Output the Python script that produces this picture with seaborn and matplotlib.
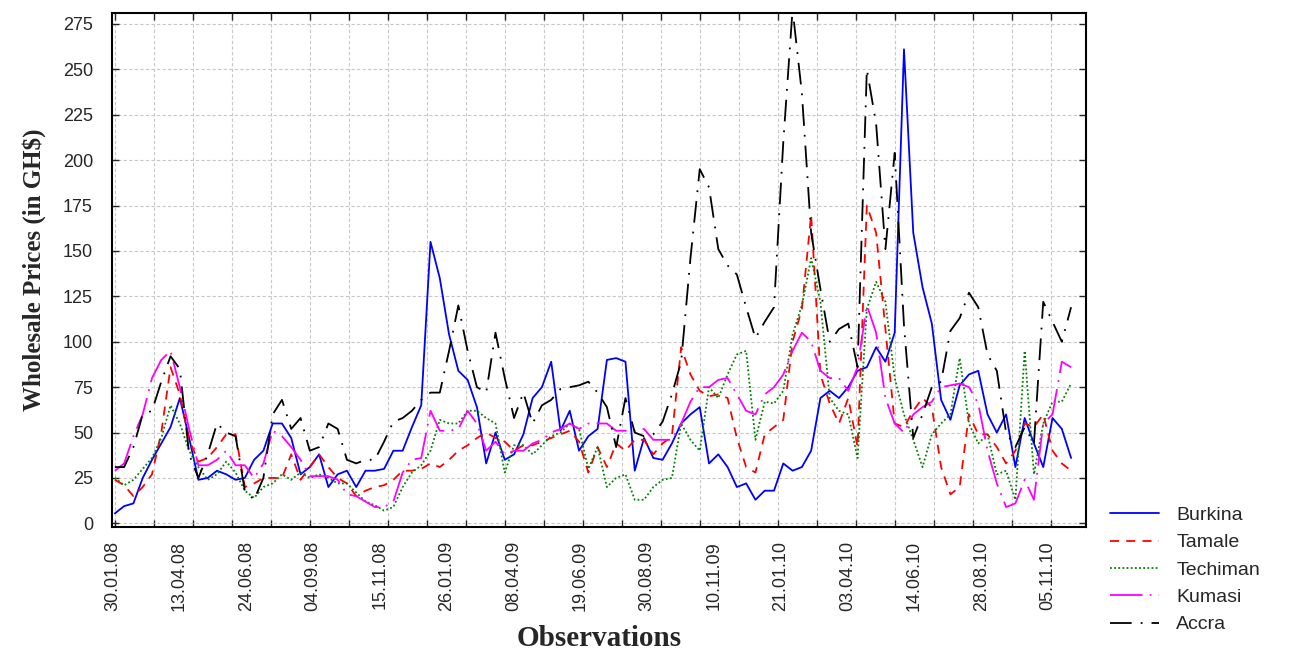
import numpy as np
import pandas as pd
import matplotlib
matplotlib.use("Agg")
import matplotlib.pyplot as plt
import seaborn as sns

obs = np.arange(0, 520, 5)

markets = ["Burkina", "Tamale", "Techiman", "Kumasi", "Accra"]

burkina = [5.5, 9.5, 11, 25, 35, 44, 53, 69, 47, 24, 25, 29, 27, 24, 25, 35, 40, 55, 55, 47, 27, 31, 38, 20, 27, 29, 20,
           29, 29, 30, 40, 40, 53, 65, 155, 135, 104, 84, 79, 64, 33, 50, 35, 38, 49, 69, 75, 89, 51, 62, 40, 48, 52,
           90, 91, 89, 29, 47, 36, 35, 44, 55, 60, 64, 33, 38, 31, 20, 22, 13, 18, 18, 33, 29, 31, 40, 69, 73, 69, 75,
           84, 86, 97, 89, 105, 261, 160, 130, 110, 68, 57, 76, 82, 84, 60, 50, 60, 31, 58, 44, 31, 58, 52, 36]
tamale = [24, 21, 15, 20, 27, 50, 86, 71, 46, 34, 36, 42, 49, 49, 20, 22, 25, 25, 25, 38, 24, 31, 38, 31, 25, 22, 15,
          18, 20, 21, 24, 29, 29, 30, 33, 31, 35, 40, 43, 47, 50, 47, 45, 40, 43, 43, 45, 47, 49, 51, 45, 28, 42,
          31, 44, 40, 46, 46, 38, 44, 48, 97, 82, 73, 70, 71, 69, 47, 31, 28, 49, 53, 57, 100, 118, 170, 82, 66, 55, 69,
          42, 175, 160, 107, 55, 53, 62, 69, 64, 31, 16, 20, 60, 49, 49, 42, 33, 40, 55, 53, 60, 40, 33, 29]
techiman = [25, 21, 24, 30, 36, 47, 65, 55, 40, 31, 24, 27, 34, 28, 18, 14, 20, 22, 27, 24, 28, 25, 27, 25, 22, 22, 17,
            12, 10, 7, 9, 20, 28, 32, 40, 57, 55, 55, 62, 62, 58, 55, 28, 43, 43, 38, 43, 48, 50, 55, 52, 30, 42,
            20, 25, 27, 13, 13, 20, 24, 25, 55, 46, 40, 75, 69, 82, 93, 95, 46, 67, 66, 73, 104, 120, 146, 122, 69, 62, 60,
            36, 118, 133, 122, 80, 60, 46, 31, 49, 55, 60, 91, 55, 44, 49, 27, 29, 13, 95, 27, 55, 67, 67, 77]
kumasi = [29, 33, 48, 60, 80, 90, 95, 75, 52, 32, 32, 35, 40, 32, 32, 25, 33, 51, 48, 42, 35, 26, 26, 26, 24, 16, 15,
          12, 9, 9, 12, 28, 35, 36, 62, 51, 51, 52, 62, 55, 40, 45, 38, 40, 40, 44, 46, 50, 52, 55, 52, 55, 55,
          55, 51, 51, 51, 52, 46, 46, 46, 55, 67, 75, 75, 79, 80, 71, 62, 60, 71, 75, 82, 95, 105, 100, 84, 80, 80, 73,
          86, 120, 105, 69, 55, 50, 60, 64, 67, 75, 76, 77, 75, 66, 40, 22, 9, 11, 24, 13, 55, 60, 89, 86]
accra = [31, 31, 42, 60, 62, 78, 92, 85, 38, 25, 38, 55, 50, 48, 18, 13, 25, 60, 68, 52, 58, 40, 42, 55, 52, 35, 33,
         35, 35, 45, 56, 58, 62, 68, 72, 72, 95, 120, 95, 75, 72, 105, 80, 58, 72, 55, 65, 68, 74, 75, 76, 78, 72,
         64, 42, 69, 50, 48, 49, 56, 71, 89, 146, 195, 185, 151, 142, 137, 119, 102, 111, 119, 210, 283, 237, 160, 129, 100, 107, 110,
         86, 250, 220, 151, 204, 109, 47, 60, 75, 78, 106, 113, 127, 119, 93, 84, 50, 42, 53, 44, 122, 111, 100, 119]

date_labels = ["30.01.08", "13.04.08", "24.06.08", "04.09.08", "15.11.08", "26.01.09", "08.04.09", "19.06.09",
               "30.08.09", "10.11.09", "21.01.10", "03.04.10", "14.06.10", "28.08.10", "05.11.10"]
y_ticks = [0, 25, 50, 75, 100, 125, 150, 175, 200, 225, 250, 275]

colors = {"Burkina": "#0000ff", "Tamale": "#ff0000", "Techiman": "#008000", "Kumasi": "#ff00ff", "Accra": "#000000"}
dashes = {"Burkina": "", "Tamale": (5, 4), "Techiman": (1, 1.3), "Kumasi": (18, 4, 1, 4), "Accra": (12, 5, 1, 5)}

df = pd.DataFrame({
    "obs": np.tile(obs, len(markets)),
    "price": burkina + tamale + techiman + kumasi + accra,
    "market": np.repeat(markets, len(obs)),
})

sns.set_style("ticks")
plt.rcParams["font.family"] = ["Liberation Sans", "DejaVu Sans"]

fig = plt.figure(figsize=(13.12, 6.6), dpi=100)
ax = fig.add_axes([0.0857, 0.2015, 0.742, 0.7788])

sns.lineplot(data=df, x="obs", y="price", hue="market", style="market", hue_order=markets,
             style_order=markets, palette=colors, dashes=dashes, estimator=None,
             linewidth=1.3, ax=ax)

ax.set_xlim(-0.5, 523)
ax.set_ylim(-2, 281)

# grid ticks every 21 observations, date labels every 36 (nudged so they don't clash with grid ticks)
ax.set_xticks(np.arange(0, 505, 21))
ax.set_xticklabels([])
ax.set_xticks(np.arange(0, 505, 36) - 1.3, minor=True)
ax.set_xticklabels(date_labels, minor=True, rotation=90, fontsize=13)
ax.tick_params(axis="x", which="minor", length=0, pad=10)
ax.set_yticks(y_ticks)
ax.set_yticklabels([str(v) for v in y_ticks], fontsize=13)
ax.tick_params(axis="both", which="major", direction="in", length=5, width=1,
               top=True, right=True)
ax.tick_params(axis="y", pad=14)

ax.grid(True, which="major", color="#c8c8c8", linestyle=(0, (3, 2)), linewidth=0.8)
for s in ax.spines.values():
    s.set_linewidth(1.5)
    s.set_color("black")

ax.set_xlabel("")
ax.set_ylabel("Wholesale Prices (in GH$)", family="Liberation Serif", fontweight="bold",
              fontsize=18, labelpad=12)
fig.text(0.4566, 0.012, "Observations", family="Liberation Serif", fontweight="bold",
         fontsize=21, ha="center", va="bottom")

sns.move_legend(ax, "upper left", bbox_to_anchor=(1.025, 0.04), title=None, frameon=False,
                fontsize=14, handlelength=2.5, handletextpad=0.9, labelspacing=0.5,
                borderaxespad=0, borderpad=0)

fig.savefig("out.png", dpi=100)
